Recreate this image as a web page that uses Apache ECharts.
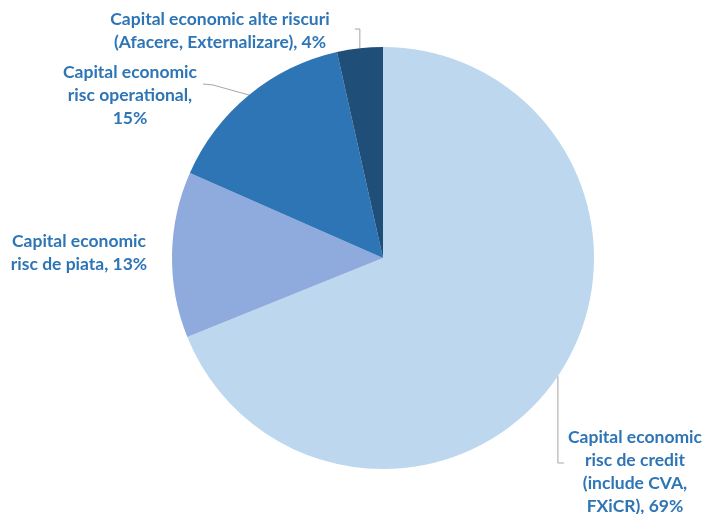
<!DOCTYPE html>
<html>
<head>
<meta charset="utf-8">
<script src="https://cdn.jsdelivr.net/npm/echarts@6/dist/echarts.min.js"></script>
<style>
html,body{margin:0;padding:0;background:#fff;}
#chart{width:705px;height:514px;}
</style>
</head>
<body>
<div id="chart"></div>
<script>
// Data
const categories = [
  'Capital economic risc de credit (include CVA, FXiCR)',
  'Capital economic risc de piata',
  'Capital economic risc operational',
  'Capital economic alte riscuri (Afacere, Externalizare)'
];
const values = [68.9, 12.7, 14.9, 3.5];
const labelTexts = [
  'Capital economic\nrisc de credit\n(include CVA,\nFXiCR), 69%',
  'Capital economic\nrisc de piata, 13%',
  'Capital economic\nrisc operational,\n15%',
  'Capital economic alte riscuri\n(Afacere, Externalizare), 4%'
];
const colors = ['#BDD7EE', '#8FAADC', '#2E75B6', '#1F4E79'];

// Layout (not data)
const CX = 383, CY = 258, R = 211;
const labelPos = [
  {x: 635, y: 472},
  {x: 79, y: 253},
  {x: 130, y: 95},
  {x: 220, y: 31}
];
const total = values.reduce((a, b) => a + b, 0);
function edgePoint(i) {
  let before = 0;
  for (let k = 0; k < i; k++) before += values[k];
  const mid = (before + values[i] / 2) / total * 2 * Math.PI;
  return [CX + R * Math.sin(mid), CY - R * Math.cos(mid)];
}

const chart = echarts.init(document.getElementById('chart'), null, {renderer: 'canvas'});
chart.setOption({
  animation: false,
  series: [{
    type: 'pie',
    center: [CX, CY],
    radius: [0, R],
    startAngle: 90,
    clockwise: true,
    data: categories.map((c, i) => ({
      name: c,
      value: values[i],
      itemStyle: {color: colors[i]},
      label: {formatter: labelTexts[i]},
      labelLine: {show: i !== 1}
    })),
    itemStyle: {borderWidth: 0},
    label: {
      show: true,
      position: 'outside',
      color: '#2E75B6',
      fontFamily: 'Lato',
      fontWeight: 'bold',
      fontSize: 17.5,
      lineHeight: 23,
      align: 'center',
      overflow: 'none'
    },
    labelLine: {
      show: true,
      lineStyle: {color: '#A6A6A6', width: 1}
    },
    labelLayout: function (params) {
      const i = params.dataIndex;
      const p = labelPos[i];
      const e = edgePoint(i);
      let pts;
      if (i === 0) pts = [e, [e[0], 463], [e[0] + 6, 463]];
      else if (i === 2) pts = [e, [213, 85], [203, 84]];
      else if (i === 3) pts = [e, [e[0], 29], [e[0] - 5, 29]];
      else pts = [e, e, e];
      return {
        x: p.x, y: p.y, align: 'center', verticalAlign: 'middle',
        labelLinePoints: pts
      };
    }
  }]
});
</script>
</body>
</html>
